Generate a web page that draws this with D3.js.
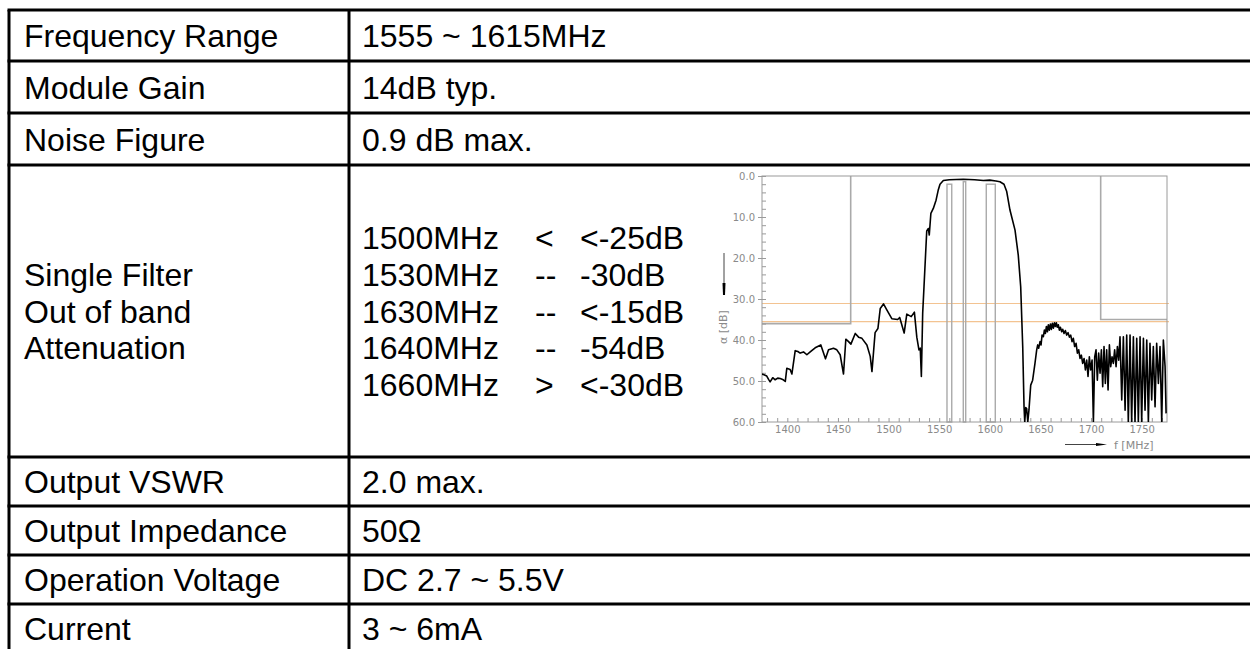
<!DOCTYPE html>
<meta charset="utf-8">
<script src="https://d3js.org/d3.v7.min.js"></script>
<style>
  body { margin: 0; background: #fff; }
  svg text { font-family: "Liberation Sans", Arial, sans-serif; }
</style>
<div id="spec_area"></div>
<script>
// table content
let paramNames = ["Frequency Range", "Module Gain", "Noise Figure",
                  ["Single Filter", "Out of band", "Attenuation"],
                  "Output VSWR", "Output Impedance", "Operation Voltage", "Current"];
let paramValues = ["1555 ~ 1615MHz", "14dB typ.", "0.9 dB max.", null,
                   "2.0 max.", "50\u03A9", "DC 2.7 ~ 5.5V", "3 ~ 6mA"];

// attenuation spec lines
let specFreqs = ["1500MHz", "1530MHz", "1630MHz", "1640MHz", "1660MHz"];
let specRel = ["<", "--", "--", "--", ">"];
let specAtt = ["<-25dB", "-30dB", "<-15dB", "-54dB", "<-30dB"];

// chart axes
let yTicks = [0, 10, 20, 30, 40, 50, 60];
let xTicks = [1400, 1450, 1500, 1550, 1600, 1650, 1700, 1750];

// mask / reference levels (dB)
let maskFreqs = [1462.6, 1709.5];
let maskLevels = [36.0, 35.0];
let refLevels = [31.1, 35.5];
let markerStart = [1557.7, 1573.8, 1596.5];
let markerEnd = [1562.4, 1576.2, 1605.4];
let markerTop = [2.0, 1.4, 2.0];

// measured response
let freqMHz = [1374.7, 1377, 1379.7, 1381.5, 1383, 1385.6, 1388, 1390.5, 1393, 1396, 1398, 1399.5,
  1402.8, 1404.5, 1407.8, 1410.4, 1412.7, 1416, 1419.3, 1422.6, 1427.5, 1433.1, 1437.7, 1440.7,
  1445.6, 1448.9, 1452.2, 1455.5, 1457.8, 1460.5, 1462.8, 1467.1, 1470.4, 1473.7, 1478.6, 1481.9,
  1483.6, 1486.7, 1489.5, 1491.8, 1495, 1498.4, 1503.2, 1509, 1511, 1515.4, 1518, 1522.4, 1525.5,
  1527.9, 1530, 1531.3, 1532.4, 1533.7, 1535, 1537.7, 1539.3, 1540.2, 1541.8, 1544.2, 1546.9, 1549,
  1550.8, 1554.1, 1560, 1573.8, 1585, 1593.6, 1600, 1606, 1610, 1614, 1616.7, 1619.9, 1624.9, 1628.1,
  1630.5, 1632.5, 1633.8, 1634.5, 1635.5, 1636.4, 1637.5, 1638.7, 1640.4, 1642.3, 1644.6,
  1646.3, 1647.3, 1648.3, 1649.6, 1650.6, 1651.6, 1652.9, 1653.9, 1654.9, 1655.9, 1656.9, 1657.8,
  1658.8, 1659.8, 1660.8, 1661.8, 1662.8, 1663.8, 1664.8, 1665.7, 1666.7, 1667.7, 1668.7, 1669.7,
  1671.0, 1672.0, 1673.3, 1674.6, 1675.9, 1677.3, 1678.6, 1679.9, 1681.2, 1682.5, 1683.8, 1685.2,
  1686.5, 1687.8, 1689.1, 1690.4, 1691.7, 1693.1, 1694.4, 1695.7, 1697.0, 1698.3, 1699.6, 1701.0,
  1702.3, 1703.6, 1704.9, 1706.2, 1707.5, 1708.9, 1710.2, 1711.5, 1712.8, 1714.1, 1715.4, 1716.8,
  1718.1, 1719.4, 1720.7, 1722.0, 1723.3, 1724.7, 1726.0, 1727.3, 1728.6, 1730.3, 1731.9, 1733.6,
  1735.2, 1736.8, 1738.5, 1740.1, 1741.8, 1743.4, 1745.1, 1746.7, 1748.4, 1750.0, 1751.7, 1753.3,
  1755.0, 1756.6, 1758.2, 1759.9, 1761.5, 1763.2, 1764.8, 1766.5, 1768.1, 1769.8, 1771.4, 1773.1, 1774.1];
let attenDb = [48.3, 48.5, 48.8, 49.6, 50.2, 49.2, 49.7, 49.3, 49.4, 49.7, 50.1, 46.9,
  47.2, 48.3, 42.6, 42.8, 43.2, 42.9, 43.6, 42.9, 41.9, 41.2, 44.6, 42.4,
  42.0, 42.4, 43.6, 48.3, 39.8, 40.4, 41.0, 38.4, 39.3, 39.6, 41.2, 44.0,
  47.7, 38.2, 37.2, 32.3, 31.2, 32.7, 34.8, 35.0, 34.5, 38.3, 33.7, 34.3, 33.2,
  39.3, 42.4, 42.0, 48.9, 33.5, 27, 13.4, 12.8, 14.4, 9.1, 7.9, 5.9, 3.5,
  2.0, 1.1, 0.9, 0.8, 0.9, 1.1, 1.0, 1.2, 1.4, 2.0, 3.8, 8.3, 13.2, 19.3,
  27, 41.6, 56.3, 60, 56.5, 56.7, 60, 57, 51, 49.8, 45.7,
  42.4, 41.2, 42.0, 40.4, 41.2, 38.8, 39.2, 37.6, 38.4, 36.7, 38.0, 36.3,
  37.6, 36.1, 37.4, 35.9, 37.1, 35.8, 36.7, 35.8, 36.9, 36.3, 37.6, 36.9,
  38.0, 37.4, 38.4, 37.7, 38.8, 38.2, 39.3, 38.8, 40.4, 39.6, 41.6, 40.8,
  43.2, 42.4, 44.5, 43.7, 45.7, 44.5, 47.3, 44.9, 48.9, 44.1, 47.3, 44.9,
  60, 44.1, 42.4, 49.8, 43.2, 48.1, 42.4, 51.4, 41.6, 50.6, 42.4, 52.2,
  41.2, 46.5, 44.1, 45.7, 42.4, 46.5, 41.6, 44.9, 39.2, 54.6, 39.2, 57.1,
  38.8, 60, 38.8, 60, 39.2, 60, 39.6, 60, 39.2, 60, 39.6, 57.1,
  40.0, 60, 40.8, 54.6, 41.6, 56.3, 40.8, 50.6, 41.6, 60, 40.0, 46.5, 57.9];

let width = 1250, height = 649;
let svg = d3.select("#spec_area").append("svg")
    .attr("width", width).attr("height", height);

// ---- table ----
let rowEdges = [10, 61, 113, 165, 457, 506, 555, 604, 653];
let tableLeft = 9, colSplit = 349, tableRight = 1260;
let fontPx = 32, lineGap = 36.7;

let grid = svg.append("g").attr("stroke", "#000").attr("stroke-width", 3);
rowEdges.forEach(y => {
    grid.append("line").attr("x1", tableLeft - 1.5).attr("x2", tableRight).attr("y1", y).attr("y2", y);
});
[tableLeft, colSplit].forEach(x => {
    grid.append("line").attr("x1", x).attr("x2", x)
        .attr("y1", rowEdges[0]).attr("y2", rowEdges[rowEdges.length - 1]);
});

let txt = svg.append("g").style("font-size", fontPx + "px").attr("fill", "#000");
paramNames.forEach((name, i) => {
    let mid = (rowEdges[i] + rowEdges[i + 1]) / 2;
    let lines = Array.isArray(name) ? name : [name];
    lines.forEach((ln, j) => {
        txt.append("text").attr("x", 24)
            .attr("y", mid + (j - (lines.length - 1) / 2) * lineGap + fontPx * 0.36)
            .text(ln);
    });
    if (paramValues[i] !== null) {
        txt.append("text").attr("x", 362).attr("y", mid + fontPx * 0.36).text(paramValues[i]);
    }
});

// spec lines in the attenuation cell
let bigMid = (rowEdges[3] + rowEdges[4]) / 2;
specFreqs.forEach((f, j) => {
    let yy = bigMid + (j - 2) * lineGap + fontPx * 0.36;
    txt.append("text").attr("x", 362).attr("y", yy).text(f);
    txt.append("text").attr("x", 535).attr("y", yy).text(specRel[j]);
    txt.append("text").attr("x", 580).attr("y", yy).text(specAtt[j]);
});

// ---- attenuation plot ----
let x = d3.scaleLinear().domain([1375, 1775]).range([762, 1167]);
let y = d3.scaleLinear().domain([0, 60]).range([176, 422]);
let gray = "#9a9a9a";
let chart = svg.append("g");

chart.append("clipPath").attr("id", "plotClip").append("rect")
    .attr("x", x.range()[0]).attr("y", y.range()[0] - 1)
    .attr("width", x.range()[1] - x.range()[0]).attr("height", y.range()[1] - y.range()[0] + 1);

// reference levels (orange)
chart.selectAll(".ref").data(refLevels).enter().append("line")
    .attr("x1", x.range()[0]).attr("x2", x.range()[1] + 2)
    .attr("y1", d => y(d)).attr("y2", d => y(d))
    .attr("stroke", "#f3c391").attr("stroke-width", 1.2);

// left / right stop-band masks
let maskPath = [
    [[x.domain()[0], maskLevels[0]], [maskFreqs[0], maskLevels[0]], [maskFreqs[0], 0]],
    [[maskFreqs[1], 0], [maskFreqs[1], maskLevels[1]], [x.domain()[1], maskLevels[1]]]
];
let maskLine = d3.line().x(d => x(d[0])).y(d => y(d[1]));
chart.selectAll(".mask").data(maskPath).enter().append("path")
    .attr("d", maskLine).attr("fill", "none").attr("stroke", "#aaa").attr("stroke-width", 1.6);

// pass-band markers
chart.selectAll(".marker").data(markerStart).enter().append("rect")
    .attr("x", (d, i) => x(d)).attr("width", (d, i) => x(markerEnd[i]) - x(d))
    .attr("y", (d, i) => y(markerTop[i])).attr("height", (d, i) => y(60) - y(markerTop[i]))
    .attr("fill", "none").attr("stroke", "#aaa").attr("stroke-width", 1.4);

// frame
chart.append("rect").attr("x", x.range()[0]).attr("y", y.range()[0])
    .attr("width", x.range()[1] - x.range()[0]).attr("height", y.range()[1] - y.range()[0])
    .attr("fill", "none").attr("stroke", gray).attr("stroke-width", 1);

// axes
let yAxis = chart.append("g").attr("transform", "translate(" + x.range()[0] + ",0)")
    .call(d3.axisLeft(y).tickValues(yTicks).tickFormat(d3.format(".1f")).tickSize(4).tickPadding(3));
let yMinor = chart.append("g").attr("transform", "translate(" + x.range()[0] + ",0)")
    .call(d3.axisLeft(y).tickValues(d3.range(0, 61, 2)).tickFormat("").tickSize(-4));
let xAxis = chart.append("g").attr("transform", "translate(0," + y.range()[1] + ")")
    .call(d3.axisBottom(x).tickValues(xTicks).tickFormat(d3.format("d")).tickSize(0).tickPadding(4));
let xMinor = chart.append("g").attr("transform", "translate(0," + y.range()[1] + ")")
    .call(d3.axisBottom(x).tickValues(d3.range(1380, 1775, 10)).tickFormat("").tickSize(-4));

[yAxis, yMinor, xAxis, xMinor].forEach(g => {
    g.select(".domain").remove();
    g.selectAll("line").attr("stroke", gray);
    g.selectAll("text").attr("fill", "#8a8a8a")
        .style("font-family", "'DejaVu Sans', sans-serif").style("font-size", "10px");
});

// response curve
let curve = d3.line().x((d, i) => x(freqMHz[i])).y((d, i) => y(attenDb[i]));
chart.append("path").datum(freqMHz)
    .attr("d", curve).attr("clip-path", "url(#plotClip)")
    .attr("fill", "none").attr("stroke", "#000").attr("stroke-width", 1.6)
    .attr("stroke-linejoin", "round");

// axis captions with arrows
chart.append("line").attr("x1", 724).attr("x2", 724).attr("y1", 253).attr("y2", 284)
    .attr("stroke", "#444").attr("stroke-width", 1);
chart.append("path").attr("d", "M722.5,283 L725.5,283 L725,295 L723,295 Z").attr("fill", "#000");
chart.append("text").attr("transform", "translate(727,344) rotate(-90)")
    .attr("fill", "#8a8a8a").style("font-family", "'DejaVu Sans', sans-serif").style("font-size", "11px")
    .text("\u03B1  [dB]");

chart.append("line").attr("x1", 1065).attr("x2", 1097).attr("y1", 444.5).attr("y2", 444.5)
    .attr("stroke", "#444").attr("stroke-width", 1);
chart.append("path").attr("d", "M1096,443 L1107,444.5 L1096,446 Z").attr("fill", "#000");
chart.append("text").attr("x", 1114).attr("y", 449)
    .attr("fill", "#8a8a8a").style("font-family", "'DejaVu Sans', sans-serif").style("font-size", "11px")
    .text("f  [MHz]");
</script>
